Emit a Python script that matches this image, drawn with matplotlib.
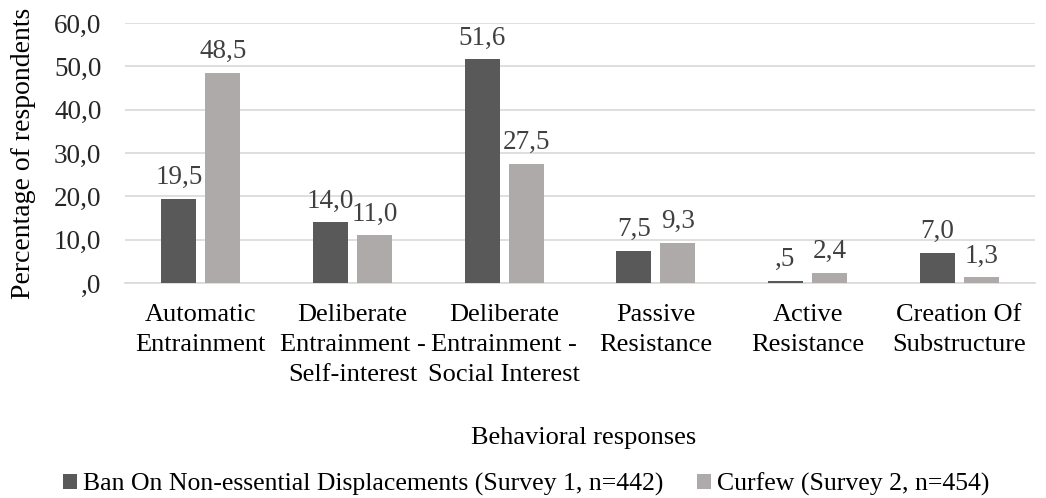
import matplotlib
matplotlib.use("Agg")
import matplotlib.pyplot as plt
import numpy as np

categories = [
    "Automatic\nEntrainment",
    "Deliberate\nEntrainment -\nSelf-interest",
    "Deliberate\nEntrainment -\nSocial Interest",
    "Passive\nResistance",
    "Active\nResistance",
    "Creation Of\nSubstructure",
]
survey1 = [19.5, 14.0, 51.6, 7.5, 0.5, 7.0]
survey2 = [48.5, 11.0, 27.5, 9.3, 2.4, 1.3]
series_names = [
    "Ban On Non-essential Displacements (Survey 1, n=442)",
    "Curfew (Survey 2, n=454)",
]
yticks = [0, 10, 20, 30, 40, 50, 60]


def fmt(v):
    s = f"{v:.1f}".replace(".", ",")
    if s.startswith("0,"):
        s = s[1:]
    return s


plt.rcParams["font.family"] = ["Liberation Serif", "DejaVu Serif"]

fig = plt.figure(figsize=(10.46, 4.98), dpi=100)
ax = fig.add_axes([0.1195, 0.4317, 0.87, 0.5221])

x = np.arange(len(categories))
w = 0.23
gap = 0.06
dark = "#595959"
light = "#AEAAAA"
b1 = ax.bar(x - (w + gap) / 2, survey1, w, color=dark, label=series_names[0], zorder=3)
b2 = ax.bar(x + (w + gap) / 2, survey2, w, color=light, label=series_names[1], zorder=3)

for bars, vals in ((b1, survey1), (b2, survey2)):
    for rect, v in zip(bars, vals):
        ax.text(rect.get_x() + rect.get_width() / 2, v + 3.4, fmt(v),
                ha="center", va="baseline", fontsize=19.5, color="#404040")

ax.set_xlim(-0.5, len(categories) - 0.5)
ax.set_ylim(0, 60)
ax.set_yticks(yticks)
ax.set_yticklabels([fmt(v) for v in yticks], fontsize=19.5, color="#262626")
ax.set_xticks(x)
ax.set_xticklabels(categories, fontsize=19, va="top", linespacing=1.48)
ax.tick_params(axis="x", length=0, pad=15)
ax.tick_params(axis="y", length=0, pad=17)
ax.yaxis.grid(True, color="#D9D9D9", linewidth=1.2, zorder=0)
for s in ("top", "right", "left"):
    ax.spines[s].set_visible(False)
ax.spines["bottom"].set_color("#D9D9D9")
ax.spines["bottom"].set_linewidth(1.2)

ax.set_ylabel("Percentage of respondents", fontsize=20)
ax.yaxis.set_label_coords(-0.098, 0.5)
fig.text(0.558, 0.12, "Behavioral responses", ha="center", va="center", fontsize=19)

fig.legend(loc="center left", bbox_to_anchor=(0.060, 0.028), ncol=2, frameon=False,
           fontsize=18.5, handlelength=0.55, handleheight=0.55, handletextpad=0.23,
           columnspacing=1.3, borderpad=0, borderaxespad=0)

fig.savefig("out.png", dpi=100)
